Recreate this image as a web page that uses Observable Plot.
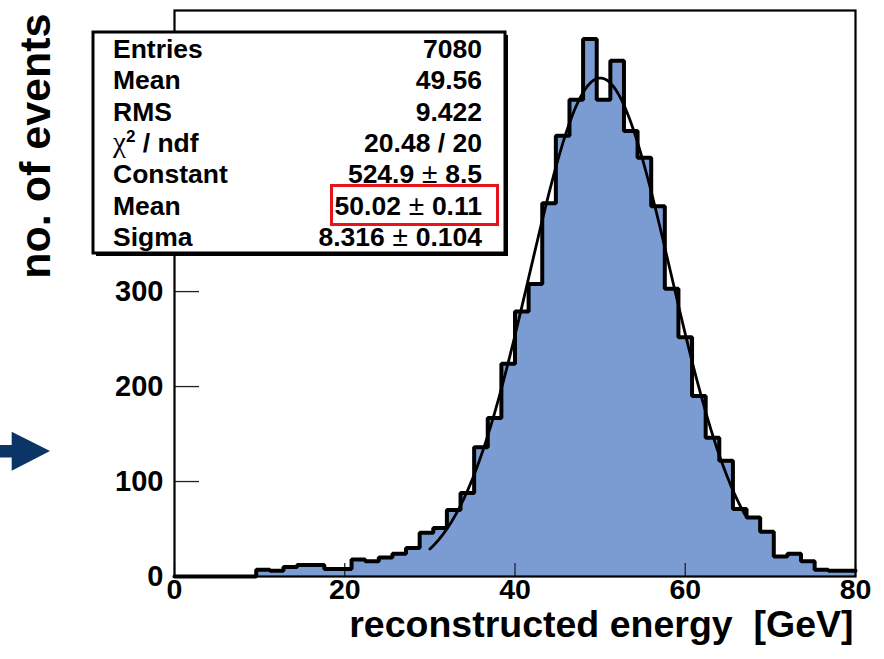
<!DOCTYPE html>
<html>
<head>
<meta charset="utf-8">
<script src="https://cdn.jsdelivr.net/npm/d3@7"></script>
<script src="https://cdn.jsdelivr.net/npm/@observablehq/plot@0.6"></script>
<style>
  html, body { margin: 0; padding: 0; background: #fff; }
  #chart { position: relative; width: 884px; height: 659px; }
</style>
</head>
<body>
<div id="chart"></div>
<script>
// ---- data ----
const binLow = 0;
const binWidth = 1.6;
const binCounts = [
  0, 0, 0, 0, 0, 0, 7, 6, 10, 12,
  12, 8, 8, 18, 16, 20, 24, 30, 46, 51,
  70, 88, 136, 167, 224, 279, 308, 393, 464, 502,
  566, 502, 543, 469, 441, 390, 303, 252, 190, 146,
  122, 71, 62, 47, 21, 24, 16, 7, 6, 6
];
const xTicks = [0, 20, 40, 60, 80];
const yTicks = [0, 100, 200, 300, 400, 500];
const yTickLabels = [0, 100, 200, 300];   // 400 and 500 are hidden behind the stats box
const statLabels = ["Entries", "Mean", "RMS", "χ2 / ndf", "Constant", "Mean", "Sigma"];
const statValues = ["7080", "49.56", "9.422", "20.48 / 20", "524.9 ± 8.5", "50.02 ± 0.11", "8.316 ± 0.104"];
const fitConstant = 524.9;
const fitMean = 50.02;
const fitSigma = 8.316;
const fitRange = [30, 67];
const xLabel = "reconstructed energy  [GeV]";
const yLabel = "no. of events";

// ---- derived tables ----
const bins = binCounts.map((c, i) => ({x1: binLow + i * binWidth, x2: binLow + (i + 1) * binWidth, y: c}));
const outline = bins.map(b => ({x: b.x1, y: b.y})).concat([{x: bins[bins.length - 1].x2, y: bins[bins.length - 1].y}]);
const fit = d3.range(fitRange[0], fitRange[1] + 1e-9, 0.2).map(x => ({x, y: fitConstant * Math.exp(-0.5 * ((x - fitMean) / fitSigma) ** 2)}));

const W = 884, H = 659, mL = 174, mR = 29, mT = 10, mB = 83;
const innerW = W - mL - mR, innerH = H - mT - mB;
const FONT = "'Liberation Sans', Arial, Helvetica, sans-serif";

const svg = Plot.plot({
  width: W, height: H,
  marginLeft: mL, marginRight: mR, marginTop: mT, marginBottom: mB,
  style: {fontFamily: FONT, background: "#fff", overflow: "visible"},
  x: {domain: [0, 80], axis: null},
  y: {domain: [0, 596], axis: null},
  marks: [
    Plot.areaY(outline, {x: "x", y: "y", curve: "step-after", fill: "#7b9bd3"}),
    Plot.tickX(xTicks, {x: d => d, stroke: "#222", strokeWidth: 1.3, insetTop: innerH - 13}),
    Plot.tickY(yTicks, {y: d => d, stroke: "#222", strokeWidth: 1.3, insetRight: innerW - 25}),
    Plot.line(outline, {x: "x", y: "y", curve: "step-after", stroke: "#000", strokeWidth: 4, strokeLinejoin: "miter"}),
    Plot.line(fit, {x: "x", y: "y", stroke: "#000", strokeWidth: 2.8}),
    Plot.frame({stroke: "#000", strokeWidth: 2.2}),
    Plot.text(xTicks, {x: d => d, text: d => String(d), frameAnchor: "bottom", dy: 22.5, fontSize: 28.5, fontWeight: "bold", fill: "#000"}),
    Plot.text(yTickLabels, {y: d => d, text: d => String(d), frameAnchor: "left", dx: -11, textAnchor: "end", fontSize: 29, fontWeight: "bold", fill: "#000"}),
    Plot.text([xLabel], {frameAnchor: "bottom-right", textAnchor: "end", dx: -2, dy: 60, fontSize: 37.5, fontWeight: "bold", fill: "#000"}),
    Plot.text([yLabel], {frameAnchor: "top-left", textAnchor: "end", rotate: -90, dx: -155, dy: 3, fontSize: 43, fontWeight: "bold", fill: "#000"})
  ]
});

document.getElementById("chart").appendChild(svg);

// ---- stats box overlay ----
const s = d3.select(svg);
const g = s.append("g").attr("font-family", FONT).attr("font-weight", "bold").attr("text-anchor", "start");
const bx = 93, by = 32, bw = 412, bh = 221;
g.append("rect").attr("x", bx + 3).attr("y", by + 3).attr("width", bw).attr("height", bh).attr("fill", "#000");
g.append("rect").attr("x", bx).attr("y", by).attr("width", bw).attr("height", bh).attr("fill", "#fff").attr("stroke", "#000").attr("stroke-width", 3);

const rowY0 = 58, rowStep = 31.3, FS = 26.5;
statLabels.forEach((lab, i) => {
  const t = g.append("text").attr("x", 113).attr("y", rowY0 + i * rowStep).attr("font-size", FS)
    .attr("text-anchor", "start").attr("fill", "#000");
  if (lab.startsWith("χ2")) {
    t.append("tspan").attr("font-family", "'Liberation Serif', 'DejaVu Serif', serif").attr("font-weight", "normal").attr("font-size", 29).text("χ");
    t.append("tspan").attr("font-size", 17).attr("dy", -10).text("2");
    t.append("tspan").attr("dy", 10).text(lab.slice(2));
  } else {
    t.text(lab);
  }
});
statValues.forEach((val, i) => {
  const t = g.append("text").attr("x", 482).attr("y", rowY0 + i * rowStep).attr("font-size", FS).attr("text-anchor", "end").attr("fill", "#000");
  const parts = val.split(" ± ");
  if (parts.length === 2) {
    t.append("tspan").text(parts[0]);
    t.append("tspan").attr("font-weight", "normal").attr("font-size", 28).text(" ± ");
    t.append("tspan").text(parts[1]);
  } else {
    t.text(val);
  }
});
// red highlight around the fitted mean
g.append("rect").attr("x", 331.5).attr("y", 185.5).attr("width", 166).attr("height", 39)
  .attr("fill", "none").attr("stroke", "#e8141c").attr("stroke-width", 3);

// ---- navy arrow decoration at left ----
const a = s.append("g").attr("fill", "#0b3467");
a.append("rect").attr("x", 0).attr("y", 445).attr("width", 13).attr("height", 12.5);
a.append("polygon").attr("points", "11.7,431.7 50,451 11.7,470.7");
</script>
</body>
</html>
